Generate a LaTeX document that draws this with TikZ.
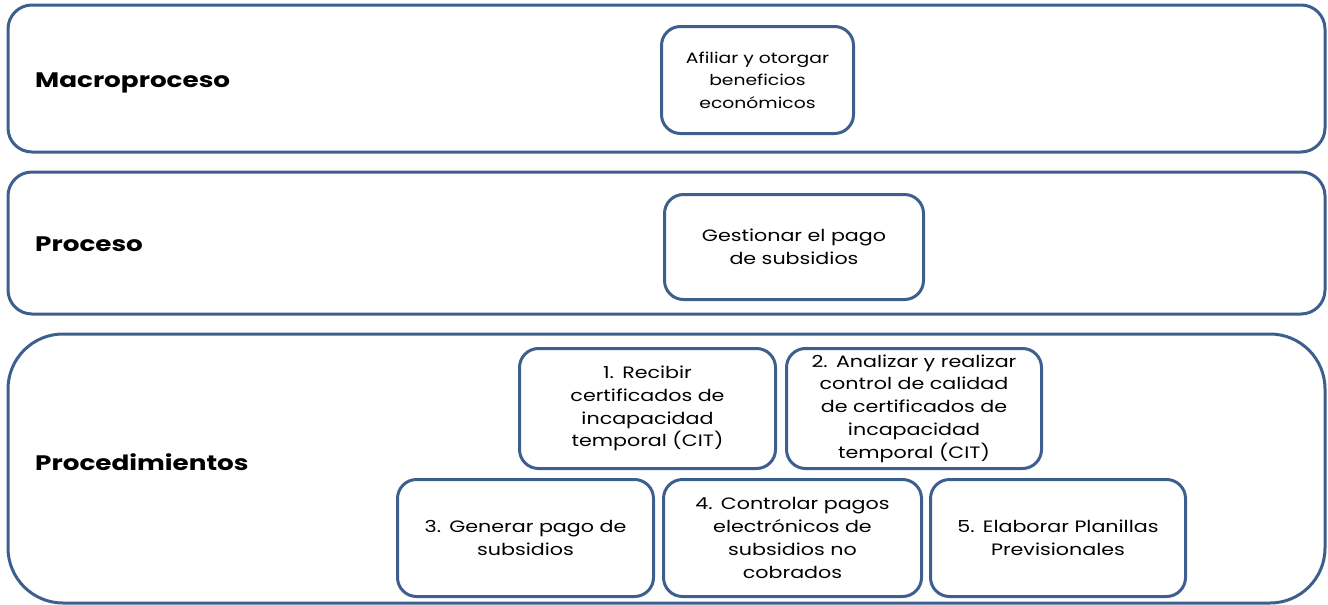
\documentclass[tikz,border=0pt]{standalone}
\usepackage{fontspec}
\setmainfont{Poppins}[FakeStretch=1.25]
\definecolor{frame}{HTML}{3D5F8E}
\begin{document}
\begin{tikzpicture}[x=1pt,y=-1pt,
  band/.style={draw=frame, line width=3pt, rounded corners=#1},
  band/.default=24pt,
  stepbox/.style={draw=frame, line width=3pt, rounded corners=19pt, align=center,
    anchor=north west, inner sep=0pt, font=\fontsize{16.5}{22.8}\selectfont},
  lbl/.style={anchor=west, inner sep=0pt, font=\fontsize{21}{24}\selectfont\bfseries}]
\useasboundingbox (0,0) rectangle (1328,605);
% bands
\draw[band] (8,5) rectangle (1325,152);
\draw[band] (8,172) rectangle (1325,314);
\draw[band=55pt] (8,334) rectangle (1325,603);
% labels
\node[lbl] (lmacro) at (35,83) {Macroproceso};
\node[lbl] (lproc) at (35,244) {Proceso};
\node[lbl] (lprocs) at (35,462) {Procedimientos};
% boxes
\node[stepbox, minimum width=192pt, minimum height=107pt, text width=180pt,
  font=\fontsize{15}{22.5}\selectfont] (afil) at (660,25)
  {Afiliar y otorgar\\beneficios\\económicos};
\node[stepbox, minimum width=259pt, minimum height=105pt, text width=240pt] (gest) at (663,193)
  {Gestionar el pago\\de subsidios};
\node[stepbox, minimum width=256pt, minimum height=120pt, text width=240pt] (b1) at (518,347)
  {1. Recibir\\certificados de\\incapacidad\\temporal (CIT)};
\node[stepbox, minimum width=255pt, minimum height=120pt, text width=240pt] (b2) at (785,347)
  {2. Analizar y realizar\\control de calidad\\de certificados de\\incapacidad\\temporal (CIT)};
\node[stepbox, minimum width=256pt, minimum height=117pt, text width=240pt] (b3) at (396,478)
  {3. Generar pago de\\subsidios};
\node[stepbox, minimum width=258pt, minimum height=117pt, text width=240pt] (b4) at (662,478)
  {4. Controlar pagos\\electrónicos de\\subsidios no\\cobrados};
\node[stepbox, minimum width=255pt, minimum height=117pt, text width=240pt] (b5) at (929,478)
  {5. Elaborar Planillas\\Previsionales};
\end{tikzpicture}
\end{document}
